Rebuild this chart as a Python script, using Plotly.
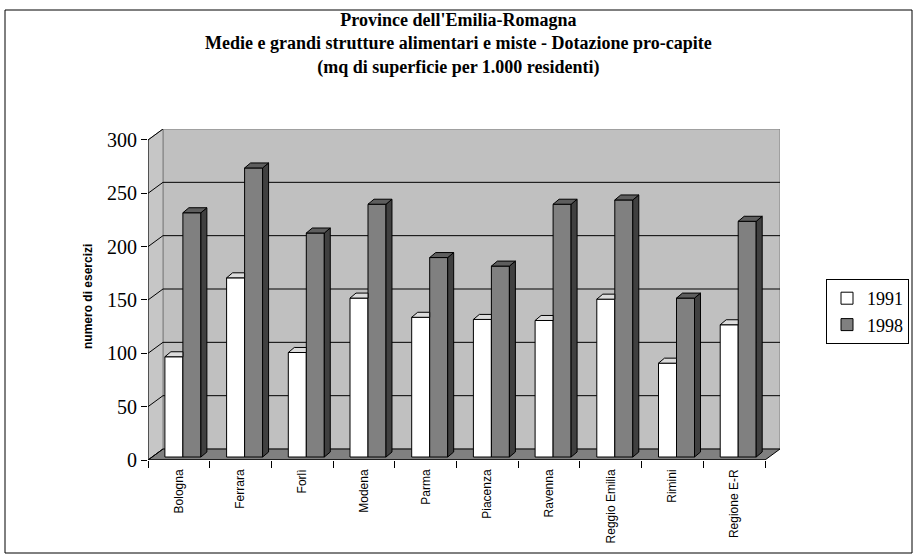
import plotly.graph_objects as go

# --- data -----------------------------------------------------------------
province = ["Bologna", "Ferrara", "Forlì", "Modena", "Parma", "Piacenza",
            "Ravenna", "Reggio Emilia", "Rimini", "Regione E-R"]
val_1991 = [94, 168, 98, 149, 131, 129, 128, 148, 88, 124]
val_1998 = [229, 271, 210, 237, 187, 179, 237, 241, 149, 221]
y_ticks = [0, 50, 100, 150, 200, 250, 300]

# --- pseudo-3D geometry (axis units) ---------------------------------------
n = len(province)
x_lo, x_hi = -0.5, n - 0.5
wall_dx, wall_dy = 0.243, 10.3      # depth of the box (back wall offset)
depth = 0.27                        # position of the bars inside the box
bar_dx, bar_dy = 0.097, 4.7         # thickness of each bar
bar_w = 0.2917
x_max = x_hi + wall_dx
y_max = 300 + wall_dy
base = depth * wall_dy
shift = depth * wall_dx

# page layout in pixels
W, H = 917, 555
L, T, R, B = 148, 129, 12, 555 - 460
pw, ph = W - L - R, H - T - B
plot_right = 780


def px_x(p):
    return (p - L) / pw


def px_y(p):
    return (H - B - p) / ph


serif = "Liberation Serif, Times New Roman, serif"
sans = "Liberation Sans, Arial, sans-serif"

fig = go.Figure()

series = [("1991", val_1991, "#FFFFFF", -bar_w + shift),
          ("1998", val_1998, "#808080", shift)]

for name, vals, front, off in series:
    fig.add_trace(go.Bar(
        x=list(range(n)), y=vals, base=[base] * n, name=name,
        width=bar_w, offset=off, legendgroup=name,
        marker=dict(color=front, line=dict(color="black", width=1)),
        hoverinfo="skip"))

# white bars: only the visible part of the top face (the right part is
# hidden behind the grey bar)
tx, ty = [], []
for i, v in enumerate(val_1991):
    x0 = i - bar_w + shift
    x1 = x0 + bar_w
    t = v + base
    tx += [x0, x1, x1, x0 + bar_dx, x0, None]
    ty += [t, t, t + bar_dy, t + bar_dy, t, None]
fig.add_trace(go.Scatter(x=tx, y=ty, mode="lines", fill="toself",
                         fillcolor="#DCDCDC", line=dict(color="black", width=1),
                         showlegend=False, hoverinfo="skip"))

# grey bars: side and top faces
sx, sy, tx, ty = [], [], [], []
for i, v in enumerate(val_1998):
    x0 = i + shift
    x1 = x0 + bar_w
    t = v + base
    sx += [x1, x1 + bar_dx, x1 + bar_dx, x1, x1, None]
    sy += [base, base + bar_dy, t + bar_dy, t, base, None]
    tx += [x0, x1, x1 + bar_dx, x0 + bar_dx, x0, None]
    ty += [t, t, t + bar_dy, t + bar_dy, t, None]
fig.add_trace(go.Scatter(x=sx, y=sy, mode="lines", fill="toself",
                         fillcolor="#404040", line=dict(color="black", width=1),
                         showlegend=False, hoverinfo="skip"))
fig.add_trace(go.Scatter(x=tx, y=ty, mode="lines", fill="toself",
                         fillcolor="#5E5E5E", line=dict(color="black", width=1),
                         showlegend=False, hoverinfo="skip"))

# invisible trace so the tick-mark axis is drawn
fig.add_trace(go.Scatter(x=[x_lo], y=[0], xaxis="x2", mode="markers",
                         marker=dict(opacity=0), showlegend=False,
                         hoverinfo="skip"))

shapes = []
# back wall
shapes.append(dict(type="rect", xref="x", yref="y", layer="below",
                   x0=x_lo + wall_dx, x1=x_hi + wall_dx, y0=wall_dy, y1=300 + wall_dy,
                   fillcolor="#C0C0C0", line=dict(color="#808080", width=1)))
# left side wall
shapes.append(dict(type="path", xref="x", yref="y", layer="below",
                   path=f"M {x_lo},0 L {x_lo},300 L {x_lo + wall_dx},{300 + wall_dy} "
                        f"L {x_lo + wall_dx},{wall_dy} Z",
                   fillcolor="#C6C6C6", line=dict(color="#808080", width=1)))
# floor
shapes.append(dict(type="path", xref="x", yref="y", layer="below",
                   path=f"M {x_lo},0 L {x_hi},0 L {x_hi + wall_dx},{wall_dy} "
                        f"L {x_lo + wall_dx},{wall_dy} Z",
                   fillcolor="#808080", line=dict(color="black", width=1)))
# gridlines on the back wall and their links to the front axis
for v in y_ticks:
    if 0 < v < 300:
        shapes.append(dict(type="line", xref="x", yref="y", layer="below",
                           x0=x_lo + wall_dx, x1=x_hi + wall_dx,
                           y0=v + wall_dy, y1=v + wall_dy,
                           line=dict(color="black", width=1)))
    shapes.append(dict(type="line", xref="x", yref="y", layer="below",
                       x0=x_lo, x1=x_lo + wall_dx, y0=v, y1=v + wall_dy,
                       line=dict(color="black", width=1)))
# front axis lines
shapes.append(dict(type="line", xref="x", yref="y", x0=x_lo, x1=x_lo, y0=0, y1=300,
                   line=dict(color="black", width=1)))
shapes.append(dict(type="line", xref="x", yref="y", x0=x_lo, x1=x_hi, y0=0, y1=0,
                   line=dict(color="black", width=1)))
# chart frame
shapes.append(dict(type="rect", xref="paper", yref="paper",
                   x0=px_x(5), x1=px_x(912), y0=px_y(553), y1=px_y(10),
                   line=dict(color="black", width=1), fillcolor="rgba(0,0,0,0)"))

fig.update_layout(
    width=W, height=H,
    margin=dict(l=L, r=R, t=T, b=B, autoexpand=False),
    paper_bgcolor="white", plot_bgcolor="white",
    barmode="overlay",
    shapes=shapes,
    xaxis=dict(domain=[0, (plot_right - L) / pw],
               range=[x_lo, x_max], tickvals=list(range(n)), ticktext=province,
               tickangle=-90, ticks="", showgrid=False, zeroline=False,
               showline=False, ticklabelstandoff=6,
               tickfont=dict(family=sans, size=12, color="black"),
               fixedrange=True),
    xaxis2=dict(domain=[0, (plot_right - L) / pw],
                range=[x_lo, x_max], overlaying="x", anchor="y", side="bottom",
                tickvals=[x_lo + k for k in range(n + 1)], ticks="outside",
                ticklen=7, tickcolor="black", showticklabels=False,
                showgrid=False, zeroline=False, showline=False),
    yaxis=dict(range=[0, y_max], tickvals=y_ticks, ticks="outside", ticklen=6,
               tickcolor="black", showgrid=False, zeroline=False, showline=False,
               tickfont=dict(family=serif, size=20, color="black"), fixedrange=True),
    legend=dict(x=px_x(826), xanchor="left", y=px_y(279), yanchor="top",
                bordercolor="black", borderwidth=1, bgcolor="white",
                font=dict(family=serif, size=18, color="black"),
                itemwidth=30, tracegroupgap=6, traceorder="normal"),
    annotations=[
        dict(text="<b>Province dell'Emilia-Romagna<br>Medie e grandi strutture "
                  "alimentari e miste - Dotazione pro-capite<br>(mq di superficie "
                  "per 1.000 residenti)</b>",
             xref="paper", yref="paper", x=px_x(458), y=px_y(8),
             xanchor="center", yanchor="top", showarrow=False,
             font=dict(family=serif, size=18, color="black")),
        dict(text="<b>numero di esercizi</b>", textangle=-90,
             xref="paper", yref="paper", x=px_x(88), y=px_y(297),
             xanchor="center", yanchor="middle", showarrow=False,
             font=dict(family=sans, size=12, color="black")),
    ],
)

fig.write_html("out.html")
